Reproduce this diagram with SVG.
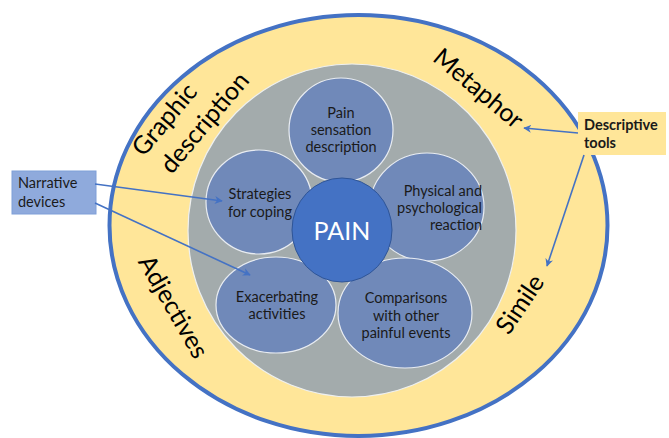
<svg xmlns="http://www.w3.org/2000/svg" width="669" height="438" viewBox="0 0 669 438">
<defs>
<style>
.lbl{font-family:Lato,"Liberation Sans",sans-serif;font-size:14.5px;fill:#1a1a1a;text-anchor:middle}
.ring{font-family:Lato,"Liberation Sans",sans-serif;font-size:25px;fill:#000;text-anchor:middle}
.small{fill:#7089b9;stroke:#e8ecf2;stroke-width:1.2}
.conn{stroke:#4472c4;stroke-width:1.6;fill:none;marker-end:url(#ah)}
</style>
<marker id="ah" viewBox="0 0 10 10" refX="9" refY="5" markerWidth="8" markerHeight="8" markerUnits="userSpaceOnUse" orient="auto">
<path d="M0,0 L10,5 L0,10 L3,5 Z" fill="#4472c4"/>
</marker>
</defs>
<rect width="669" height="438" fill="#fff"/>
<g id="outer">
<ellipse cx="358.5" cy="225.5" rx="249" ry="210.5" fill="#ffe699" stroke="#4472c4" stroke-width="4"/>
<text class="ring" transform="translate(171,125) rotate(-50)">Graphic</text>
<text class="ring" transform="translate(211,128) rotate(-50)">description</text>
<text class="ring" transform="translate(473,95) rotate(40)">Metaphor</text>
<text class="ring" transform="translate(166,311) rotate(60)">Adjectives</text>
<text class="ring" transform="translate(527,309) rotate(-56)">Simile</text>
</g>
<g id="inner">
<ellipse cx="352" cy="230.5" rx="164" ry="166.5" fill="#a3abac" stroke="#eef0f0" stroke-width="1.2"/>
</g>
<g id="pain-sensation">
<ellipse class="small" cx="341" cy="130" rx="52" ry="52"/>
<text class="lbl" x="341" y="118">Pain</text>
<text class="lbl" x="341" y="135">sensation</text>
<text class="lbl" x="341" y="152">description</text>
</g>
<g id="strategies">
<ellipse class="small" cx="259" cy="202" rx="53" ry="52"/>
<text class="lbl" x="260" y="199">Strategies</text>
<text class="lbl" x="260" y="217">for coping</text>
</g>
<g id="physical">
<ellipse class="small" cx="427" cy="207" rx="57" ry="54"/>
<text class="lbl" x="482" y="196" style="text-anchor:end">Physical and</text>
<text class="lbl" x="482" y="213" style="text-anchor:end">psychological</text>
<text class="lbl" x="482" y="230" style="text-anchor:end">reaction</text>
</g>
<g id="exacerbating">
<ellipse class="small" cx="276" cy="305" rx="60" ry="48"/>
<text class="lbl" x="277" y="302">Exacerbating</text>
<text class="lbl" x="277" y="319">activities</text>
</g>
<g id="comparisons">
<ellipse class="small" cx="405" cy="313" rx="67" ry="55"/>
<text class="lbl" x="406" y="303">Comparisons</text>
<text class="lbl" x="406" y="321">with other</text>
<text class="lbl" x="406" y="338">painful events</text>
</g>
<g id="pain">
<ellipse cx="342" cy="230" rx="50" ry="52" fill="#4472c4" stroke="#2f5597" stroke-width="1"/>
<text x="342" y="240" style="font-family:Lato,'Liberation Sans',sans-serif;font-size:25px;fill:#fff;text-anchor:middle">PAIN</text>
</g>
<g id="narrative">
<rect x="12" y="171" width="84" height="43" fill="#8faadc" stroke="#7f9fd8" stroke-width="1"/>
<text class="lbl" x="18" y="188" style="text-anchor:start">Narrative</text>
<text class="lbl" x="18" y="207" style="text-anchor:start">devices</text>
</g>
<g id="descriptive">
<rect x="578" y="112" width="88" height="43" fill="#ffe699"/>
<text class="lbl" x="584" y="130" style="text-anchor:start;font-weight:bold">Descriptive</text>
<text class="lbl" x="584" y="148" style="text-anchor:start;font-weight:bold">tools</text>
</g>
<g id="connectors">
<line class="conn" x1="95" y1="184" x2="222" y2="201"/>
<line class="conn" x1="95" y1="203" x2="250" y2="275"/>
<line class="conn" x1="578" y1="133" x2="524" y2="128"/>
<line class="conn" x1="584" y1="155" x2="547" y2="266"/>
</g>
</svg>
